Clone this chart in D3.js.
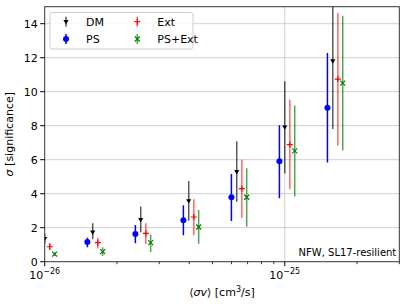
<!DOCTYPE html>
<html>
<head>
<meta charset="utf-8">
<script src="https://cdn.jsdelivr.net/npm/d3@7"></script>
<style>
  body { margin: 0; background: #fff; }
  text { font-family: "DejaVu Sans", sans-serif; }
</style>
</head>
<body>
<script>
// cross sections (DM injected) and offsets used to separate the series
var sigmav = [1.0e-26, 1.585e-26, 2.512e-26, 3.981e-26, 6.31e-26, 1.0e-25, 1.585e-25];

// significance values and error bar ends for each series
var dmVal  = [1.35, 1.73, 2.47, 3.57, 5.28, 7.91, 11.80];
var dmLo   = [1.05, 1.32, 1.73, 2.41, 3.52, 5.21, 7.81];
var dmHi   = [1.65, 2.26, 3.24, 4.75, 7.09, 10.62, 16.0];

var psVal  = [0.75, 1.16, 1.63, 2.44, 3.79, 5.91, 9.05];
var psLo   = [0.50, 0.85, 1.08, 1.55, 2.40, 3.73, 5.83];
var psHi   = [1.00, 1.41, 2.16, 3.32, 5.16, 8.03, 12.27];

var extVal = [0.88, 1.12, 1.67, 2.63, 4.30, 6.89, 10.74];
var extLo  = [0.69, 0.77, 1.04, 1.55, 2.57, 4.26, 6.83];
var extHi  = [1.08, 1.41, 2.26, 3.67, 5.99, 9.52, 14.63];

var psExtVal = [0.45, 0.59, 1.12, 2.04, 3.79, 6.52, 10.50];
var psExtLo  = [0.34, 0.34, 0.57, 1.06, 2.06, 3.83, 6.54];
var psExtHi  = [0.55, 0.85, 1.59, 3.04, 5.50, 9.19, 14.47];

var yTicks = [0, 2, 4, 6, 8, 10, 12, 14];
var xMajor = [1e-26, 1e-25];
var xMinor = [2e-26, 3e-26, 4e-26, 5e-26, 6e-26, 7e-26, 8e-26, 9e-26, 2e-25, 3e-25];

var series = [
  {name: "DM",     shift: 1.0,  val: dmVal,    lo: dmLo,    hi: dmHi,    color: "#000000", bar: "#000000", barOp: 0.65, marker: "tri"},
  {name: "PS",     shift: 0.95, val: psVal,    lo: psLo,    hi: psHi,    color: "#0000ff", bar: "#0000ff", barOp: 1.0,  marker: "circle"},
  {name: "Ext",    shift: 1.05, val: extVal,   lo: extLo,   hi: extHi,   color: "#ff0000", bar: "#ff0000", barOp: 0.6,  marker: "plus"},
  {name: "PS+Ext", shift: 1.1,  val: psExtVal, lo: psExtLo, hi: psExtHi, color: "#008000", bar: "#008000", barOp: 0.7,  marker: "x"}
];

var W = 407, H = 305;
var margin = {top: 6.7, right: 7.7, bottom: 43.3, left: 44.7},
    width = W - margin.left - margin.right,
    height = H - margin.top - margin.bottom;

var x = d3.scaleLog().domain([1e-26, 3e-25]).range([0, width]);
var y = d3.scaleLinear().domain([0, 15]).range([height, 0]);

var svg = d3.select("body").append("svg")
    .attr("width", W)
    .attr("height", H)
  .append("g")
    .attr("transform", "translate(" + margin.left + "," + margin.top + ")");

svg.append("defs").append("clipPath").attr("id", "clip")
  .append("rect").attr("width", width).attr("height", height);

// grid
svg.append("g").selectAll("line").data(yTicks.slice(1)).enter().append("line")
    .attr("x1", 0).attr("x2", width)
    .attr("y1", function(d) { return y(d); }).attr("y2", function(d) { return y(d); })
    .attr("stroke", "#b0b0b0").attr("stroke-opacity", 0.6).attr("stroke-width", 1);
svg.append("g").selectAll("line").data(xMajor.slice(1)).enter().append("line")
    .attr("x1", function(d) { return x(d); }).attr("x2", function(d) { return x(d); })
    .attr("y1", 0).attr("y2", height)
    .attr("stroke", "#b0b0b0").attr("stroke-opacity", 0.6).attr("stroke-width", 1);

// points
var plot = svg.append("g").attr("clip-path", "url(#clip)");

function drawMarker(g, type, cx, cy, color) {
  if (type === "circle") {
    g.append("circle").attr("cx", cx).attr("cy", cy).attr("r", 3).attr("fill", color);
  } else if (type === "tri") {
    var s = 2.6;
    g.append("path")
      .attr("d", "M" + (cx - s) + "," + (cy - s * 0.7) + "L" + (cx + s) + "," + (cy - s * 0.7) + "L" + cx + "," + (cy + s) + "Z")
      .attr("fill", color);
  } else if (type === "plus") {
    g.append("line").attr("x1", cx - 3).attr("x2", cx + 3).attr("y1", cy).attr("y2", cy)
      .attr("stroke", color).attr("stroke-width", 1.2);
    g.append("line").attr("x1", cx).attr("x2", cx).attr("y1", cy - 3).attr("y2", cy + 3)
      .attr("stroke", color).attr("stroke-width", 1.2);
  } else if (type === "x") {
    var k = 2.5;
    g.append("path")
      .attr("d", "M" + (cx - k) + "," + (cy - k) + "L" + (cx + k) + "," + (cy + k) +
                 "M" + (cx - k) + "," + (cy + k) + "L" + (cx + k) + "," + (cy - k))
      .attr("stroke", color).attr("stroke-width", 1.2).attr("fill", "none");
  }
}

series.forEach(function(s) {
  var g = plot.append("g");
  sigmav.forEach(function(sv, i) {
    var px = x(sv * s.shift);
    g.append("line")
      .attr("x1", px).attr("x2", px)
      .attr("y1", y(s.lo[i])).attr("y2", y(s.hi[i]))
      .attr("stroke", s.bar).attr("stroke-opacity", s.barOp).attr("stroke-width", 1.5);
    drawMarker(g, s.marker, px, y(s.val[i]), s.color);
  });
});

// spines
svg.append("rect").attr("width", width).attr("height", height)
    .attr("fill", "none").attr("stroke", "#333").attr("stroke-width", 1);

// y axis ticks
var yg = svg.append("g");
yTicks.forEach(function(t) {
  yg.append("line").attr("x1", -4.5).attr("x2", 0).attr("y1", y(t)).attr("y2", y(t))
    .attr("stroke", "#000").attr("stroke-width", 1);
  yg.append("text").attr("x", -7).attr("y", y(t)).attr("dy", "0.36em")
    .attr("text-anchor", "end").attr("font-size", "11px").text(t);
});

// x axis ticks
var xg = svg.append("g").attr("transform", "translate(0," + height + ")");
xMajor.forEach(function(t) {
  xg.append("line").attr("x1", x(t)).attr("x2", x(t)).attr("y1", 0).attr("y2", 4.5)
    .attr("stroke", "#000").attr("stroke-width", 1);
  var exp = Math.round(Math.log10(t));
  var tx = xg.append("text").attr("x", x(t)).attr("y", 17)
    .attr("text-anchor", "middle").attr("font-size", "11px");
  tx.append("tspan").text("10");
  tx.append("tspan").attr("dy", -5).attr("font-size", "8px").text("\u2212" + Math.abs(exp));
});
xMinor.forEach(function(t) {
  xg.append("line").attr("x1", x(t)).attr("x2", x(t)).attr("y1", 0).attr("y2", 2.5)
    .attr("stroke", "#000").attr("stroke-width", 0.8);
});

// axis labels
var xl = svg.append("text").attr("x", width / 2).attr("y", height + 34)
    .attr("text-anchor", "middle").attr("font-size", "11px");
xl.append("tspan").text("\u27E8");
xl.append("tspan").attr("font-style", "italic").text("\u03C3v");
xl.append("tspan").text("\u27E9 [cm");
xl.append("tspan").attr("dy", -4).attr("font-size", "8px").text("3");
xl.append("tspan").attr("dy", 4).text("/s]");

var yl = svg.append("text")
    .attr("transform", "translate(" + (-32) + "," + (height / 2) + ") rotate(-90)")
    .attr("text-anchor", "middle").attr("font-size", "11px");
yl.append("tspan").attr("font-style", "italic").text("\u03C3");
yl.append("tspan").text(" [significance]");

// annotation
svg.append("text").attr("x", width - 3).attr("y", height - 6)
    .attr("text-anchor", "end").attr("font-size", "10px").text("NFW, SL17-resilient");

// legend
var lg = svg.append("g").attr("transform", "translate(" + (50 - margin.left) + "," + (12.5 - margin.top) + ")");
lg.append("rect").attr("width", 143).attr("height", 36.5).attr("rx", 2.5)
    .attr("fill", "#fff").attr("fill-opacity", 0.8).attr("stroke", "#ccc").attr("stroke-width", 1);
series.forEach(function(s, i) {
  var col = i < 2 ? 0 : 1, row = i % 2;
  var hx = 16 + col * 71.3, hy = 9.2 + row * 17.3;
  lg.append("line").attr("x1", hx).attr("x2", hx).attr("y1", hy - 5).attr("y2", hy + 5)
    .attr("stroke", s.bar).attr("stroke-opacity", s.barOp).attr("stroke-width", 1.5);
  drawMarker(lg, s.marker, hx, hy, s.color);
  lg.append("text").attr("x", hx + 20).attr("y", hy).attr("dy", "0.36em")
    .attr("font-size", "11px").text(s.name);
});
</script>
</body>
</html>
